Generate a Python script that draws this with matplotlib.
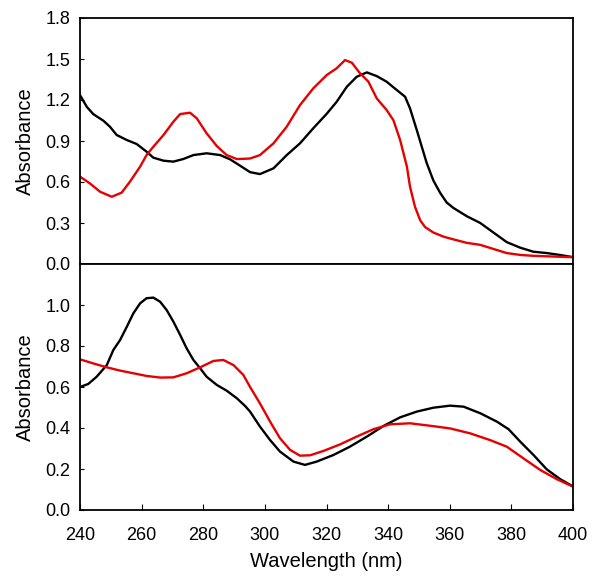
import matplotlib
matplotlib.use("Agg")
import matplotlib.pyplot as plt
from matplotlib.ticker import FixedLocator

plt.rcParams['font.family'] = ['Liberation Sans', 'DejaVu Sans']

# Top panel
top_black_x = [240, 242.2, 244.3, 247.6, 249.7, 251.9, 255.2, 258.4, 261.6, 263.8, 267.1, 270.3, 273.5, 276.8, 281.1, 285.5, 288.7, 291.9, 295.2, 298.4, 302.8, 307.1, 311.4, 315.7, 320.1, 323.3, 326.6, 329.8, 333.1, 336.3, 339.5, 342.8, 345.5, 347.1, 349.3, 352.5, 354.7, 356.9, 359.0, 361.2, 365.5, 369.9, 374.2, 378.5, 382.8, 387.1, 391.5, 395.8, 400]
top_black_y = [1.236, 1.15, 1.097, 1.048, 1.005, 0.944, 0.907, 0.878, 0.822, 0.778, 0.756, 0.749, 0.768, 0.797, 0.81, 0.797, 0.766, 0.72, 0.672, 0.658, 0.70, 0.797, 0.883, 0.993, 1.10, 1.187, 1.297, 1.37, 1.402, 1.375, 1.334, 1.273, 1.224, 1.139, 0.98, 0.74, 0.61, 0.52, 0.45, 0.41, 0.35, 0.30, 0.23, 0.16, 0.12, 0.09, 0.08, 0.066, 0.05]
top_red_x = [240, 243.2, 246.5, 250.3, 253.5, 256.2, 259.5, 261.6, 263.8, 267.1, 270.3, 272.5, 275.7, 277.9, 281.1, 284.4, 287.6, 290.9, 293.5, 295.2, 298.4, 302.8, 307.1, 311.4, 315.7, 320.1, 323.3, 326.0, 328.2, 330.9, 333.6, 336.3, 339.5, 341.7, 343.9, 346.1, 347.1, 348.7, 350.4, 352.0, 354.7, 358.0, 361.2, 365.5, 369.9, 374.2, 378.5, 383.0, 387.1, 393.0, 400]
top_red_y = [0.639, 0.59, 0.529, 0.492, 0.522, 0.602, 0.712, 0.797, 0.858, 0.944, 1.041, 1.097, 1.107, 1.066, 0.956, 0.863, 0.797, 0.768, 0.77, 0.772, 0.797, 0.883, 1.005, 1.163, 1.285, 1.383, 1.432, 1.492, 1.473, 1.395, 1.334, 1.212, 1.127, 1.053, 0.907, 0.712, 0.566, 0.42, 0.32, 0.27, 0.23, 0.20, 0.18, 0.155, 0.14, 0.11, 0.08, 0.066, 0.06, 0.055, 0.05]

# Bottom panel
bot_black_x = [240, 242.7, 245.4, 248.7, 250.8, 253.0, 255.2, 257.3, 259.5, 261.6, 263.8, 266.0, 268.1, 270.3, 272.5, 274.6, 276.8, 279.0, 281.1, 284.4, 287.6, 290.9, 293.6, 295.2, 298.4, 301.7, 304.9, 309.3, 313.0, 316.8, 322.2, 327.6, 333.1, 338.5, 343.9, 349.3, 354.7, 360.1, 364.5, 369.9, 375.3, 379.1, 382.9, 387.2, 391.5, 395.9, 400]
bot_black_y = [0.60, 0.615, 0.65, 0.707, 0.78, 0.829, 0.894, 0.959, 1.008, 1.033, 1.036, 1.016, 0.976, 0.919, 0.854, 0.789, 0.732, 0.691, 0.65, 0.61, 0.582, 0.545, 0.507, 0.48, 0.407, 0.341, 0.285, 0.236, 0.22, 0.236, 0.268, 0.309, 0.358, 0.41, 0.452, 0.48, 0.499, 0.509, 0.504, 0.472, 0.431, 0.394, 0.333, 0.268, 0.198, 0.15, 0.115]
bot_red_x = [240, 244.3, 248.7, 253.0, 257.3, 261.6, 266.0, 270.3, 274.6, 279.0, 283.3, 286.5, 289.8, 293.0, 295.2, 298.4, 301.7, 304.9, 308.2, 311.4, 314.7, 319.0, 324.4, 329.8, 335.2, 340.6, 347.1, 353.6, 360.1, 366.6, 373.1, 378.5, 383.9, 389.4, 394.8, 400]
bot_red_y = [0.735, 0.715, 0.696, 0.68, 0.667, 0.654, 0.646, 0.647, 0.667, 0.696, 0.727, 0.732, 0.707, 0.659, 0.60, 0.52, 0.431, 0.35, 0.293, 0.265, 0.267, 0.288, 0.32, 0.358, 0.394, 0.418, 0.423, 0.411, 0.398, 0.374, 0.341, 0.309, 0.252, 0.195, 0.15, 0.114]

top_yticks = [0.0, 0.3, 0.6, 0.9, 1.2, 1.5, 1.8]
bot_yticks = [0.0, 0.2, 0.4, 0.6, 0.8, 1.0]
xticks = [240, 260, 280, 300, 320, 340, 360, 380, 400]

RED = '#e60000'

fig = plt.figure(figsize=(6.0, 5.83), dpi=100)
L, R = 80/600, 573/600
ax1 = fig.add_axes([L, (583-264)/583, R-L, (264-18)/583])
ax2 = fig.add_axes([L, (583-510)/583, R-L, (510-264)/583])

lw = 1.7
ax1.plot(top_black_x, top_black_y, color='black', lw=lw)
ax1.plot(top_red_x, top_red_y, color=RED, lw=lw)
ax2.plot(bot_black_x, bot_black_y, color='black', lw=lw)
ax2.plot(bot_red_x, bot_red_y, color=RED, lw=lw)

for ax in (ax1, ax2):
    ax.set_xlim(240, 400)
    for s in ax.spines.values():
        s.set_linewidth(1.3)
    ax.tick_params(axis='y', direction='in', length=3, width=0.8, labelsize=13, pad=7)
    ax.tick_params(axis='x', direction='in', length=4, width=0.8, labelsize=13, pad=12)
    ax.set_ylabel('Absorbance', fontsize=14.5, labelpad=7)

ax1.set_ylim(0, 1.8)
ax1.yaxis.set_major_locator(FixedLocator(top_yticks))
ax1.set_yticklabels([f'{v:.1f}' for v in top_yticks])
ax1.xaxis.set_major_locator(FixedLocator(xticks))
ax1.tick_params(axis='x', labelbottom=False, length=0)

ax2.set_ylim(0, 1.2)
ax2.yaxis.set_major_locator(FixedLocator(bot_yticks))
ax2.set_yticklabels([f'{v:.1f}' for v in bot_yticks])
ax2.xaxis.set_major_locator(FixedLocator(xticks))
ax2.set_xticklabels([str(v) for v in xticks])
ax2.set_xlabel('Wavelength (nm)', fontsize=14.5, labelpad=6)

fig.savefig('out.png', dpi=100)
